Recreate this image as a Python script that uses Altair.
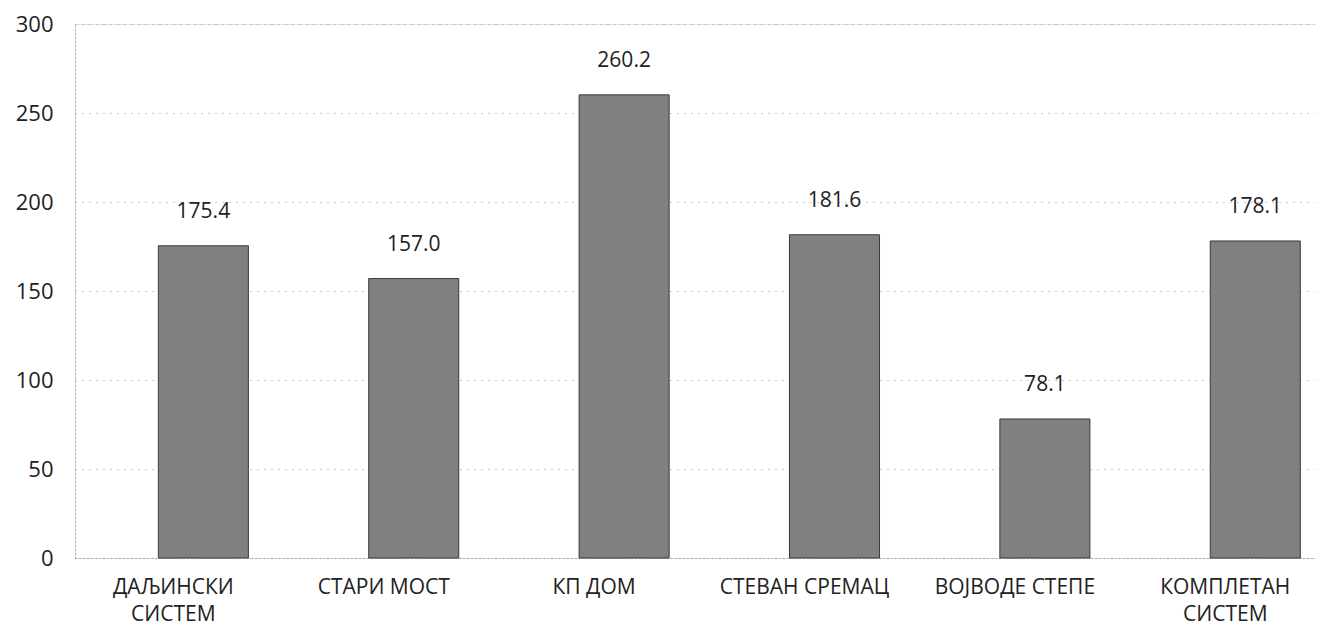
import altair as alt
import pandas as pd

categories = ["ДАЉИНСКИ СИСТЕМ", "СТАРИ МОСТ", "КП ДОМ", "СТЕВАН СРЕМАЦ", "ВОЈВОДЕ СТЕПЕ", "КОМПЛЕТАН СИСТЕМ"]
label_lines = ["ДАЉИНСКИ|СИСТЕМ", "СТАРИ  МОСТ", "КП ДОМ", "СТЕВАН  СРЕМАЦ", "ВОЈВОДЕ СТЕПЕ", "КОМПЛЕТАН|СИСТЕМ"]
values = [175.4, 157.0, 260.2, 181.6, 78.1, 178.1]
y_ticks = [0, 50, 100, 150, 200, 250, 300]

df = pd.DataFrame({"cat": label_lines, "val": values})

FONT = "Open Sans"

x = alt.X(
    "cat:N",
    sort=label_lines,
    scale=alt.Scale(paddingInner=0.572, paddingOuter=0.233, align=0.85),
    axis=alt.Axis(
        title=None,
        labelAngle=0,
        labelExpr="split(datum.label, '|')",
        labelFont=FONT,
        labelFontSize=21,
        labelColor="#222222",
        labelPadding=18,
        labelBaseline="top",
        labelLineHeight=27,
        labelOffset=-30,
        ticks=False,
        domain=True,
        domainColor="#888888",
        domainDash=[1, 3],
        domainWidth=1,
        grid=False,
    ),
)

y = alt.Y(
    "val:Q",
    scale=alt.Scale(domain=[0, 300], nice=False),
    axis=alt.Axis(
        title=None,
        values=y_ticks,
        labelFont=FONT,
        labelFontSize=22,
        labelColor="#222222",
        labelPadding=22,
        ticks=False,
        domain=True,
        domainColor="#888888",
        domainDash=[1, 3],
        grid=True,
        gridColor="#999999",
        gridDash=[1, 6],
        gridWidth=1,
    ),
)

bars = alt.Chart(df).mark_bar(color="#808080", stroke="#3a3a3a", strokeWidth=1).encode(x=x, y=y)

labels = alt.Chart(df).mark_text(
    font=FONT, fontSize=21, color="#222222", baseline="bottom", dy=-24
).encode(x=alt.X("cat:N", sort=label_lines), y="val:Q", text=alt.Text("val:Q", format=".1f"))

chart = (
    alt.layer(bars, labels)
    .properties(
        width=1240,
        height=534,
        padding={"left": 67, "top": 16, "right": 0, "bottom": 69},
        autosize=alt.AutoSizeParams(type="none"),
    )
    .configure_view(stroke=None)
    .configure(background="white")
)

chart.save("out.html", embed_options={"renderer": "svg", "actions": False})
